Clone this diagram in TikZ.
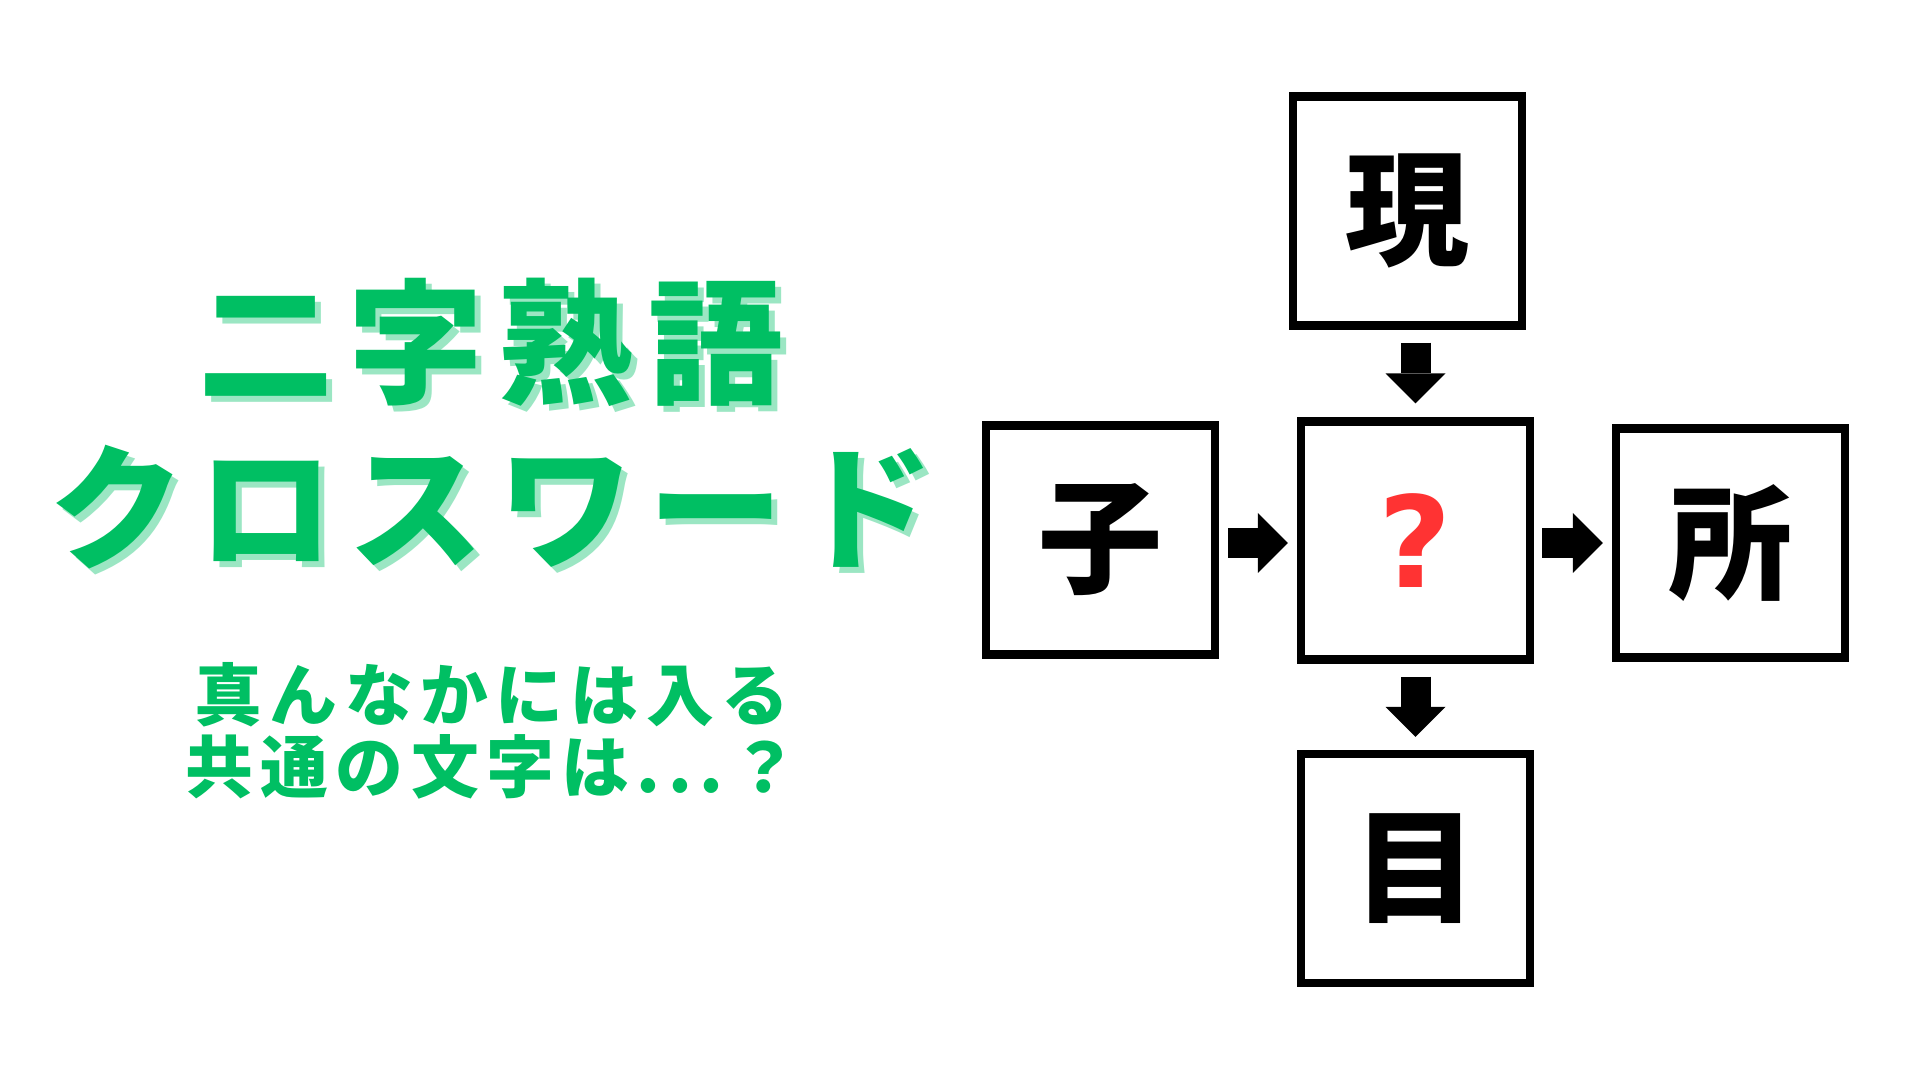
\documentclass[tikz,border=0pt]{standalone}
\usepackage{fontspec}
\usetikzlibrary{arrows.meta}
\newfontfamily\jpfont{Noto Sans CJK JP}
\newfontfamily\jptitle{Noto Sans CJK JP}[LetterSpace=11]
\newfontfamily\qfont{DejaVu Sans}
\definecolor{titlegreen}{HTML}{00BF63}
\definecolor{shadegreen}{HTML}{9BE6C3}
\definecolor{qred}{HTML}{FF3333}
\tikzset{
  cell/.style={draw, line width=0.84mm, minimum size=2.29cm, inner sep=0pt,
    font=\jpfont\bfseries\fontsize{35.3pt}{36pt}\selectfont},
  blockarrow/.style={line width=3mm, -{Triangle[length=3mm,width=6mm,line width=0pt]}},
  titletext/.style={anchor=base, inner sep=0pt,
    font=\jptitle\bfseries\fontsize{38.4pt}{40pt}\selectfont},
  subtext/.style={anchor=base, inner sep=0pt, text=titlegreen,
    font=\jptitle\bfseries\fontsize{19.3pt}{20pt}\selectfont}
}
\begin{document}
\begin{tikzpicture}
\useasboundingbox (0,0) rectangle (19.2,10.8);
\fill[white] (0,0) rectangle (19.2,10.8);
\node[titletext, text=shadegreen] (title1shadow) at (4.97,6.80) {二字熟語};
\node[titletext, text=titlegreen] (title1) at (4.91,6.86) {二字熟語};
\node[titletext, text=shadegreen] (title2shadow) at (4.97,5.15) {クロスワード};
\node[titletext, text=titlegreen] (title2) at (4.91,5.21) {クロスワード};
\node[subtext] (sub1) at (4.92,3.59) {真んなかには入る};
\node[subtext] (sub2) at (4.92,2.87) {共通の文字は...？};
\node[cell] (gen) at (14.075,8.69) {現};
\node[cell, minimum height=2.38cm, text=qred, font=\qfont\bfseries\fontsize{36pt}{38pt}\selectfont] (q) at (14.155,5.395) {?};
\node[cell] (ko) at (11.005,5.40) {子};
\node[cell] (tokoro) at (17.305,5.37) {所};
\node[cell] (me) at (14.155,2.115) {目};
\draw[blockarrow, shorten <=1.3mm, shorten >=1.4mm] (gen.south -| q.north) -- (q.north);
\draw[blockarrow, shorten <=0.9mm, shorten >=0.9mm] (ko.east |- tokoro) -- (q.west |- tokoro);
\draw[blockarrow, shorten <=0.8mm, shorten >=0.9mm] (q.east |- tokoro) -- (tokoro.west);
\draw[blockarrow, shorten <=1.3mm, shorten >=1.3mm] (q.south) -- (me.north);
\end{tikzpicture}
\end{document}
